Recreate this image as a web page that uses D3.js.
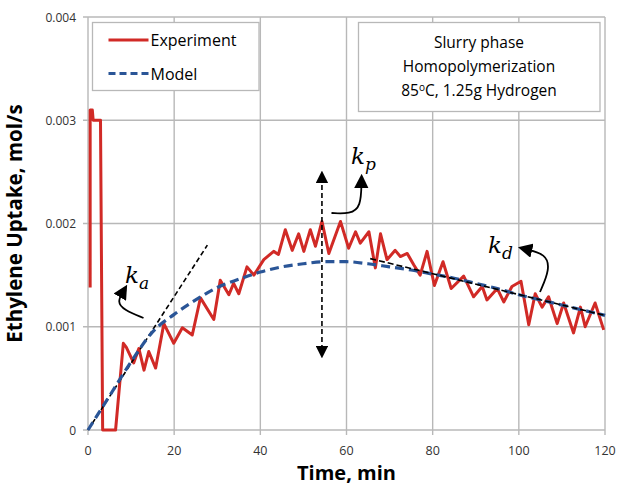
<!DOCTYPE html>
<html>
<head>
<meta charset="utf-8">
<script src="https://cdn.jsdelivr.net/npm/d3@7"></script>
<style>
  body { margin: 0; background: #fff; }
  text { font-family: "Open Sans", "Noto Sans", sans-serif; }
  .grid line { stroke: #b8b8b8; stroke-width: 1.4; }
  .math { font-family: "DejaVu Serif", "Liberation Serif", serif; font-style: italic; }
</style>
</head>
<body>
<script>
// experiment: time (min), ethylene uptake (mol/s)
var expTime = [0.5, 0.5, 1.0, 1.2, 2.9, 3.4, 6.4, 8.2, 8.9, 10.6, 11.8, 13.0, 14.1, 15.7, 17.6, 19.9,
  21.9, 24.2, 26.1, 29.2, 30.7, 32.7, 33.8, 35.0, 36.9, 38.5, 40.8, 43.1, 44.2, 45.8, 47.4, 48.9,
  50.1, 51.6, 52.8, 54.3, 55.9, 58.6, 60.5, 62.1, 63.2, 65.2, 66.7, 67.9, 69.4, 71.3, 72.5, 74.1,
  75.6, 77.1, 78.7, 80.4, 82.4, 84.3, 87.2, 89.5, 91.5, 92.6, 95.0, 96.5, 98.4, 100.5, 102.3,
  103.8, 105.4, 106.9, 108.9, 110.4, 112.7, 114.3, 115.4, 117.7, 119.7];
var expUptake = [0.00138, 0.0031, 0.0031, 0.0030, 0.0030, 0, 0, 0.00084, 0.0008, 0.00065, 0.00079, 0.00058, 0.00076, 0.0006, 0.00103, 0.00084,
  0.00099, 0.00092, 0.00128, 0.00107, 0.00145, 0.00131, 0.00142, 0.00132, 0.00158, 0.0015, 0.00165, 0.00173, 0.0017, 0.00194, 0.00174, 0.0019,
  0.00173, 0.00194, 0.00178, 0.00202, 0.00171, 0.00202, 0.00176, 0.00192, 0.00181, 0.00192, 0.00157, 0.0019, 0.00165, 0.00174, 0.00168, 0.00171,
  0.0016, 0.0015, 0.00173, 0.0014, 0.00163, 0.00137, 0.00149, 0.00129, 0.00139, 0.00126, 0.00137, 0.00124, 0.00139, 0.00144, 0.00102,
  0.00132, 0.00119, 0.00129, 0.00103, 0.00123, 0.00094, 0.00119, 0.001, 0.00123, 0.00097];

// model
var modelTime = [0, 5, 10, 15, 20, 25, 30, 35, 40, 45, 50, 55, 60, 65, 70, 75, 80, 85, 90, 95, 100, 105, 110, 115, 120];
var modelUptake = [0, 0.00033, 0.00066, 0.00095, 0.00112, 0.00126, 0.00138, 0.00146, 0.00153, 0.00158, 0.00161, 0.00163,
  0.00163, 0.00161, 0.00158, 0.00155, 0.00151, 0.00147, 0.00142, 0.00137, 0.00131, 0.00126, 0.00121, 0.00116, 0.00111];

// tangent lines (ka at start, kd at end)
var kaTime = [0, 27.7], kaUptake = [0, 0.00179];
var kdTime = [65.5, 120], kdUptake = [0.00166, 0.00111];

var xTicks = [0, 20, 40, 60, 80, 100, 120];
var yTicks = [0, 0.001, 0.002, 0.003, 0.004];
var yTickLabels = ["0", "0.001", "0.002", "0.003", "0.004"];
var infoLines = ["Slurry phase", "Homopolymerization"];

var margin = {top: 17, right: 12, bottom: 57, left: 88},
    width = 617 - margin.left - margin.right,
    height = 487 - margin.top - margin.bottom;

var x = d3.scaleLinear().domain([0, 120]).range([0, width]);
var y = d3.scaleLinear().domain([0, 0.004]).range([height, 0]);

var svg = d3.select("body").append("svg")
    .attr("width", 617)
    .attr("height", 487)
    .append("g")
    .attr("transform", "translate(" + margin.left + "," + margin.top + ")");

// grid
var grid = svg.append("g").attr("class", "grid");
grid.selectAll(".gx").data(xTicks).enter().append("line")
    .attr("x1", d => x(d)).attr("x2", d => x(d))
    .attr("y1", 0).attr("y2", height + 5);
grid.selectAll(".gy").data(yTicks).enter().append("line")
    .attr("x1", -5).attr("x2", width)
    .attr("y1", d => y(d)).attr("y2", d => y(d));

// tick labels
svg.selectAll(".xl").data(xTicks).enter().append("text")
    .attr("x", d => x(d)).attr("y", height + 25)
    .attr("text-anchor", "middle")
    .style("font-size", "12.5px").style("fill", "#333")
    .text(d => d);
svg.selectAll(".yl").data(yTicks).enter().append("text")
    .attr("x", -12).attr("y", d => y(d) + 4.5)
    .attr("text-anchor", "end")
    .style("font-size", "12px").style("fill", "#333")
    .text((d, i) => yTickLabels[i]);

// axis titles
svg.append("text")
    .attr("x", width / 2).attr("y", height + 50)
    .attr("text-anchor", "middle")
    .style("font-size", "20px").style("font-weight", "bold")
    .text("Time, min");
svg.append("text")
    .attr("transform", "translate(-66," + (height / 2) + ") rotate(-90)")
    .attr("text-anchor", "middle")
    .style("font-size", "20.5px").style("font-weight", "bold")
    .text("Ethylene Uptake, mol/s");

var line = d3.line().x(d => x(d[0])).y(d => y(d[1]));

// experiment
svg.append("path")
    .datum(d3.zip(expTime, expUptake))
    .attr("d", line)
    .style("fill", "none").style("stroke", "#d12a26").style("stroke-width", 3)
    .style("stroke-linejoin", "round");

// tangents
svg.append("path")
    .datum(d3.zip(kaTime, kaUptake))
    .attr("d", line)
    .style("fill", "none").style("stroke", "#000").style("stroke-width", 1.6)
    .style("stroke-dasharray", "5,3");

// model
svg.append("path")
    .datum(d3.zip(modelTime, modelUptake))
    .attr("d", d3.line().curve(d3.curveMonotoneX).x(d => x(d[0])).y(d => y(d[1])))
    .style("fill", "none").style("stroke", "#2a5597").style("stroke-width", 3.2)
    .style("stroke-dasharray", "9,5");

svg.append("path")
    .datum(d3.zip(kdTime, kdUptake))
    .attr("d", line)
    .style("fill", "none").style("stroke", "#000").style("stroke-width", 1.6)
    .style("stroke-dasharray", "6,3");

// arrow markers
var defs = d3.select("svg").append("defs");
defs.append("marker")
    .attr("id", "head")
    .attr("viewBox", "0 0 10 10").attr("refX", 5).attr("refY", 5)
    .attr("markerWidth", 8).attr("markerHeight", 8)
    .attr("orient", "auto-start-reverse")
    .append("path").attr("d", "M0,0 L10,5 L0,10 z").style("fill", "#000");

// kp double arrow
svg.append("line")
    .attr("x1", x(54.3)).attr("x2", x(54.3))
    .attr("y1", 160).attr("y2", 335)
    .style("stroke", "#000").style("stroke-width", 1.6).style("stroke-dasharray", "5,3")
    .attr("marker-start", "url(#head)").attr("marker-end", "url(#head)");

function curvedArrow(points) {
    svg.append("path")
        .attr("d", d3.line().curve(d3.curveBasis)(points))
        .style("fill", "none").style("stroke", "#000").style("stroke-width", 1.8)
        .attr("marker-end", "url(#head)");
}
// ka arrow
curvedArrow([[55.5, 301], [36, 293], [29, 285], [35.5, 274]]);
// kp arrow
curvedArrow([[243.5, 196], [262, 197], [273, 190], [273.5, 164]]);
// kd arrow
curvedArrow([[452, 275], [462, 252], [458, 237], [437, 232]]);

function kLabel(px, py, sub) {
    var t = svg.append("text").attr("class", "math")
        .attr("x", px).attr("y", py).style("font-size", "23px");
    t.append("tspan").text("k");
    t.append("tspan").attr("dy", 6).style("font-size", "17px").text(sub);
}
kLabel(37, 266, "a");
kLabel(263, 147, "p");
kLabel(400, 236, "d");

// legend
var legend = svg.append("g").attr("transform", "translate(" + (92.5 - margin.left) + "," + (22.5 - margin.top) + ")");
legend.append("rect").attr("width", 166.5).attr("height", 68)
    .style("fill", "#fff").style("stroke", "#b8b8b8").style("stroke-width", 1.3);
legend.append("line").attr("x1", 16).attr("x2", 56).attr("y1", 17.5).attr("y2", 17.5)
    .style("stroke", "#d12a26").style("stroke-width", 3);
legend.append("line").attr("x1", 16).attr("x2", 56).attr("y1", 51).attr("y2", 51)
    .style("stroke", "#2a5597").style("stroke-width", 3).style("stroke-dasharray", "7,4");
legend.append("text").attr("x", 58).attr("y", 23.5).style("font-size", "16px").text("Experiment");
legend.append("text").attr("x", 58).attr("y", 57).style("font-size", "16px").text("Model");

// info box
var info = svg.append("g").attr("transform", "translate(" + (358.5 - margin.left) + "," + (22.5 - margin.top) + ")");
info.append("rect").attr("width", 241.5).attr("height", 89)
    .style("fill", "#fff").style("stroke", "#b8b8b8").style("stroke-width", 1.3);
info.selectAll(".il").data(infoLines).enter().append("text")
    .attr("x", 120.5).attr("y", (d, i) => 25 + i * 24)
    .attr("text-anchor", "middle").style("font-size", "15.5px")
    .text(d => d);
var l3 = info.append("text").attr("x", 120.5).attr("y", 73)
    .attr("text-anchor", "middle").style("font-size", "15.5px");
l3.append("tspan").text("85");
l3.append("tspan").attr("dy", -5).style("font-size", "10px").text("o");
l3.append("tspan").attr("dy", 5).text("C, 1.25g Hydrogen");
</script>
</body>
</html>
